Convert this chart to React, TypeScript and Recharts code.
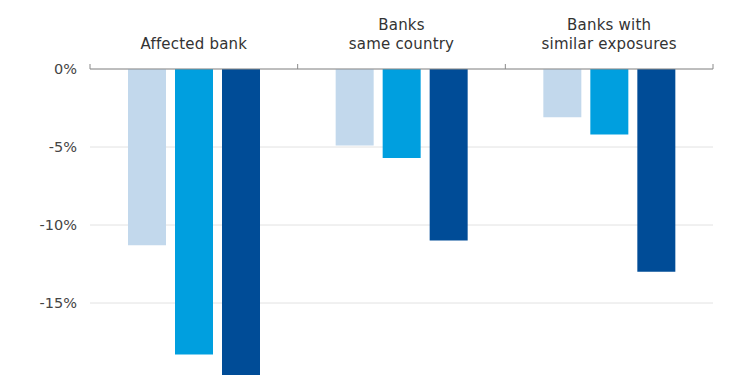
import { BarChart, Bar, XAxis, YAxis, CartesianGrid } from 'recharts';

const categories = ['Affected bank', 'Banks\nsame country', 'Banks with\nsimilar exposures'];
const seriesA = [-11.3, -4.9, -3.1];
const seriesB = [-18.3, -5.7, -4.2];
const seriesC = [-21.5, -11.0, -13.0];
const yTicks = [0, -5, -10, -15];

const COLORS = ['#c2d8ec', '#009fdf', '#004c97'];
const FONT = '"DejaVu Sans", "Open Sans", sans-serif';

const data = categories.map((name, i) => ({
  name,
  a: seriesA[i],
  b: seriesB[i],
  c: seriesC[i],
}));

// label lines above the axis, plus small boundary ticks between groups
function CategoryTick(props: any) {
  const { x, y, payload, index, width, visibleTicksCount } = props;
  const half = payload.offset || width / visibleTicksCount / 2;
  const lines = String(payload.value).split('\n');
  const lastBase = y - 20;
  return (
    <g>
      <line x1={x - half} x2={x - half} y1={y} y2={y - 5} stroke="#8a8a8a" />
      {index === visibleTicksCount - 1 && (
        <line x1={x + half} x2={x + half} y1={y} y2={y - 5} stroke="#8a8a8a" />
      )}
      <text
        x={x}
        y={lastBase}
        textAnchor="middle"
        fill="#333"
        fontSize={15}
        letterSpacing={0.2}
        fontFamily={FONT}
      >
        {lines.map((l, i) => (
          <tspan key={i} x={x} dy={i === 0 ? -(lines.length - 1) * 19 : 19}>
            {l}
          </tspan>
        ))}
      </text>
    </g>
  );
}

export default function App() {
  return (
    <div style={{ position: 'absolute', left: 0, top: 0, background: '#fff' }}>
      <BarChart
        width={750}
        height={464}
        data={data}
        margin={{ top: 0, right: 37, bottom: 5, left: 0 }}
        barSize={38}
        barGap={9}
      >
        <CartesianGrid vertical={false} stroke="#e2e2e2" />
        <XAxis
          dataKey="name"
          orientation="top"
          height={69}
          axisLine={{ stroke: '#8a8a8a' }}
          tickLine={false}
          tickSize={0}
          tickMargin={0}
          interval={0}
          tick={<CategoryTick />}
        />
        <YAxis
          width={90}
          domain={[-25, 0]}
          ticks={yTicks}
          axisLine={false}
          tickLine={false}
          tickSize={0}
          tickMargin={13}
          tickFormatter={(v: number) => `${v}%`}
          tick={{ fill: '#444', fontSize: 14.5, fontFamily: FONT }}
        />
        <Bar dataKey="a" fill={COLORS[0]} isAnimationActive={false} />
        <Bar dataKey="b" fill={COLORS[1]} isAnimationActive={false} />
        <Bar dataKey="c" fill={COLORS[2]} isAnimationActive={false} />
      </BarChart>
    </div>
  );
}
